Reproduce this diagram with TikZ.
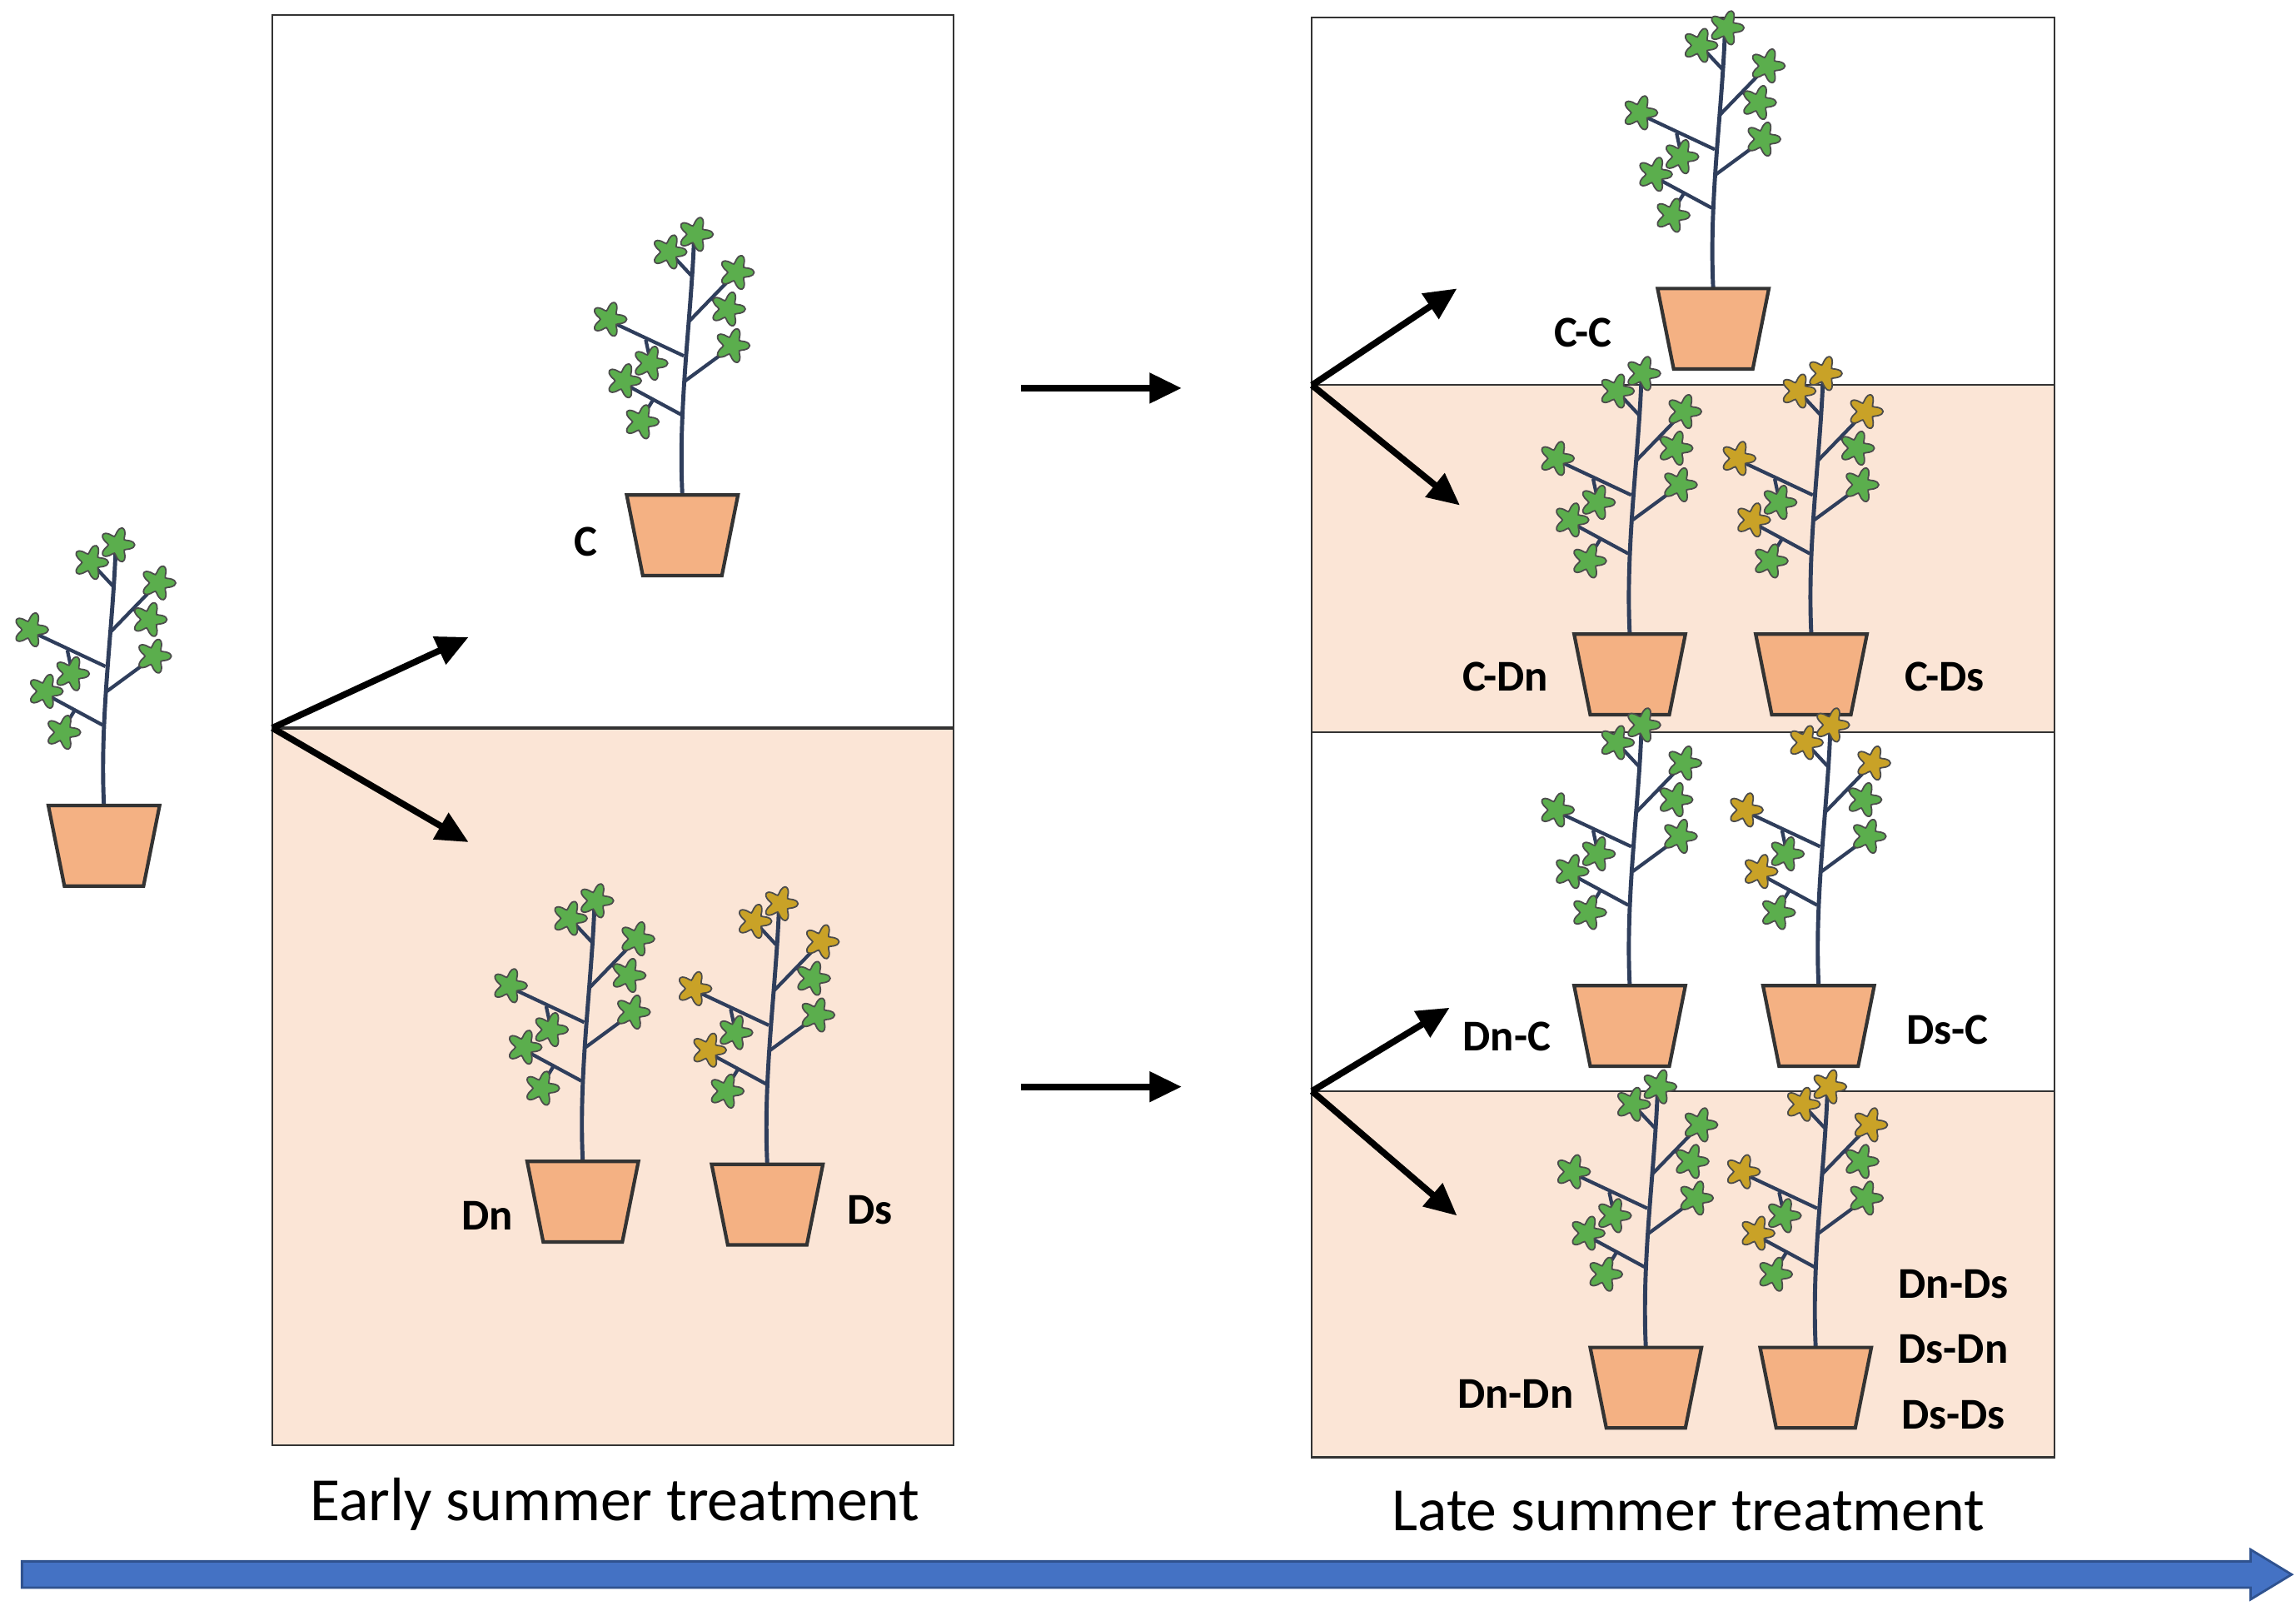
\documentclass[tikz,border=0pt]{standalone}
\usepackage{fontspec}
\setmainfont{Carlito}
\usetikzlibrary{arrows.meta}
\definecolor{peach}{HTML}{FBE5D6}
\definecolor{potc}{HTML}{F4B183}
\definecolor{leafg}{HTML}{5BAE4D}
\definecolor{leafy}{HTML}{C9A227}
\definecolor{stemc}{HTML}{2F3E5C}
\definecolor{blueA}{HTML}{4472C4}
\definecolor{blueB}{HTML}{2F528F}
\tikzset{
  lbl/.style={font=\bfseries\fontsize{15}{18}\selectfont},
  ttl/.style={font=\fontsize{21}{25}\selectfont},
  arr/.style={line width=2.2pt,-{Triangle[length=11pt,width=10pt]}},
  box/.style={draw=black!80,line width=0.6pt},
  leaf/.pic={\filldraw[fill=#1,draw=black!70,line width=0.5pt] plot[domain=0:360,samples=41,smooth cycle] (\x:{9+3*cos(5*\x)});},
  plant/.pic={
    \begin{scope}[yscale=-1]
    \draw[stemc,line width=1.4pt] (0,0) .. controls (-3,60) and (6,120) .. (8,175);
    \draw[stemc,line width=1.2pt] (-1,55) -- (-38,75) (-20,65) -- (-28,52);
    \draw[stemc,line width=1.2pt] (1,95) -- (-48,118) (-25,106) -- (-22,92);
    \draw[stemc,line width=1.2pt] (2,78) -- (32,100);
    \draw[stemc,line width=1.2pt] (4,118) -- (35,150) (20,134) -- (30,128);
    \draw[stemc,line width=1.2pt] (6,150) -- (-8,165);
    \pic at (-40,78) {leaf=#1}; \pic at (-28,50) {leaf=leafg};
    \pic at (-50,120) {leaf=#1}; \pic at (-22,90) {leaf=leafg};
    \pic at (34,102) {leaf=leafg}; \pic at (37,152) {leaf=#1};
    \pic at (31,127) {leaf=leafg}; \pic at (-9,166) {leaf=#1};
    \pic at (9,178) {leaf=#1};
    \filldraw[fill=potc,draw=black!80,line width=1.2pt] (-38,0) -- (38,0) -- (27,-55) -- (-27,-55) -- cycle;
    \end{scope}}
}
\begin{document}
\begin{tikzpicture}[x=0.01758cm,y=-0.01758cm]
\useasboundingbox (0,0) rectangle (1568,1103);
% left panel
\fill[peach] (186,497) rectangle (651,987);
\draw[box] (186,10) rectangle (651,987);
\draw[box,line width=1pt] (186,497) -- (651,497);
% right panel
\fill[peach] (896,263) rectangle (1403,500);
\fill[peach] (896,745) rectangle (1403,995);
\draw[box] (896,12) rectangle (1403,995);
\draw[box] (896,263) -- (1403,263) (896,500) -- (1403,500) (896,745) -- (1403,745);
% plants
\pic at (71,550) {plant=leafg};
\pic at (466,338) {plant=leafg};
\pic at (398,793) {plant=leafg};
\pic at (524,795) {plant=leafy};
\pic at (1170,197) {plant=leafg};
\pic at (1113,433) {plant=leafg};
\pic at (1237,433) {plant=leafy};
\pic at (1113,673) {plant=leafg};
\pic at (1242,673) {plant=leafy};
\pic at (1124,920) {plant=leafg};
\pic at (1240,920) {plant=leafy};
% arrows
\coordinate (s1) at (186,497); \coordinate (e1) at (320,435); \coordinate (e2) at (320,575);
\draw[arr] (s1) -- (e1); \draw[arr] (s1) -- (e2);
\coordinate (h1) at (697,265); \coordinate (h2) at (807,265);
\coordinate (h3) at (697,742); \coordinate (h4) at (807,742);
\draw[arr] (h1) -- (h2); \draw[arr] (h3) -- (h4);
\coordinate (s2) at (896,263); \coordinate (e3) at (995,197); \coordinate (e4) at (997,345);
\draw[arr] (s2) -- (e3); \draw[arr] (s2) -- (e4);
\coordinate (s3) at (896,745); \coordinate (e5) at (990,688); \coordinate (e6) at (995,830);
\draw[arr] (s3) -- (e5); \draw[arr] (s3) -- (e6);
% labels
\node[lbl] (lC) at (400,370) {C};
\node[lbl] (lDn) at (333,830) {Dn};
\node[lbl] (lDs) at (594,826) {Ds};
\node[lbl] (lCC) at (1081,227) {C-C};
\node[lbl] (lCDn) at (1028,462) {C-Dn};
\node[lbl] (lCDs) at (1328,462) {C-Ds};
\node[lbl] (lDnC) at (1029,708) {Dn-C};
\node[lbl] (lDsC) at (1330,703) {Ds-C};
\node[lbl] (lDnDs) at (1334,877) {Dn-Ds};
\node[lbl] (lDsDn) at (1334,921) {Ds-Dn};
\node[lbl] (lDsDs) at (1334,966) {Ds-Ds};
\node[lbl] (lDnDn) at (1035,952) {Dn-Dn};
\node[ttl] (t1) at (420,1027) {Early summer treatment};
\node[ttl] (t2) at (1153,1032) {Late summer treatment};
% timeline arrow
\filldraw[fill=blueA,draw=blueB,line width=0.8pt] (15,1066) -- (1537,1066) -- (1537,1058) -- (1565,1075) -- (1537,1092) -- (1537,1084) -- (15,1084) -- cycle;
\end{tikzpicture}
\end{document}
